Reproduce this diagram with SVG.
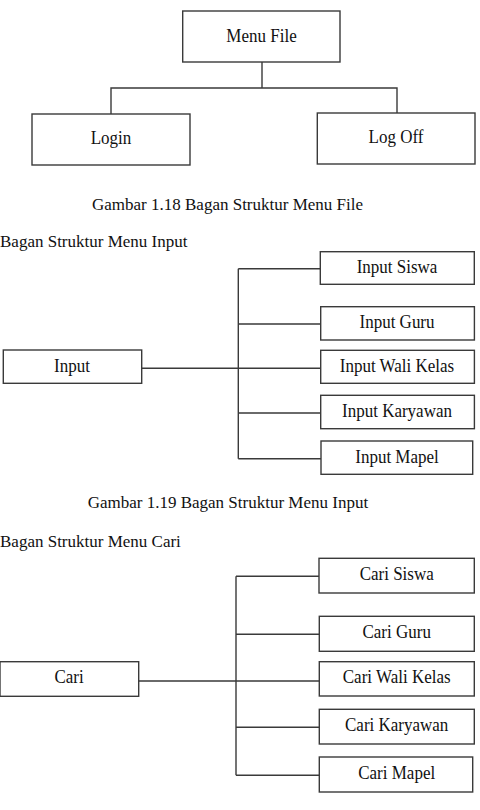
<svg xmlns="http://www.w3.org/2000/svg" width="480" height="810" viewBox="0 0 480 810">
<style>
rect.box{fill:#fff;stroke:#3a3a3a;stroke-width:1.4}
.lbl{font-family:"Liberation Serif","Times New Roman",serif;font-size:17px;fill:#111;text-anchor:middle}
.cap{font-family:"Liberation Serif","Times New Roman",serif;font-size:17px;fill:#111}
#connectors path{fill:none;stroke:#3a3a3a;stroke-width:1.4}
</style>
<rect width="480" height="810" fill="#fff"/>
<g id="connectors">
<path d="M262 62V88M111 114V88H397V113"/>
<path d="M141.7 368.3H322M238.3 268.7V458.7M238.3 268.7H320M238.3 324H320M238.3 413H320M238.3 458.7H321"/>
<path d="M138.7 681H320.7M236 576.3V775.3M236 576.3H319M236 634.3H319M236 727.3H319M236 775.3H319"/>
</g>
<g id="menu-file"><rect class="box" x="182.7" y="11" width="157.3" height="51"/><text class="lbl" transform="translate(261.5 41.5) scale(1 1.08)">Menu File</text></g>
<g id="login"><rect class="box" x="32" y="114" width="158" height="51"/><text class="lbl" transform="translate(111 143.5) scale(1 1.08)">Login</text></g>
<g id="log-off"><rect class="box" x="317.3" y="113" width="157.7" height="51"/><text class="lbl" transform="translate(396 142.5) scale(1 1.08)">Log Off</text></g>
<text class="cap" x="92" y="210">Gambar 1.18 Bagan Struktur Menu File</text>
<text class="cap" x="0" y="247">Bagan Struktur Menu Input</text>
<g id="input"><rect class="box" x="3.3" y="350" width="138.4" height="33.3"/><text class="lbl" transform="translate(72 371.7) scale(1 1.08)">Input</text></g>
<g id="input-siswa"><rect class="box" x="320.3" y="251.7" width="154" height="32.6"/><text class="lbl" transform="translate(397 272.7) scale(1 1.08)">Input Siswa</text></g>
<g id="input-guru"><rect class="box" x="320.7" y="306.7" width="153.7" height="33.3"/><text class="lbl" transform="translate(397 328) scale(1 1.08)">Input Guru</text></g>
<g id="input-wali-kelas"><rect class="box" x="320.7" y="350.3" width="153.7" height="33"/><text class="lbl" transform="translate(397 371.7) scale(1 1.08)">Input Wali Kelas</text></g>
<g id="input-karyawan"><rect class="box" x="320.7" y="395.3" width="153.7" height="33.4"/><text class="lbl" transform="translate(397 416.7) scale(1 1.08)">Input Karyawan</text></g>
<g id="input-mapel"><rect class="box" x="321" y="441" width="151.7" height="33.3"/><text class="lbl" transform="translate(397 462.7) scale(1 1.08)">Input Mapel</text></g>
<text class="cap" x="87.7" y="508.3">Gambar 1.19 Bagan Struktur Menu Input</text>
<text class="cap" x="0" y="546.7">Bagan Struktur Menu Cari</text>
<g id="cari"><rect class="box" x="0" y="661.7" width="138.7" height="34.6"/><text class="lbl" transform="translate(69 683.3) scale(1 1.08)">Cari</text></g>
<g id="cari-siswa"><rect class="box" x="319" y="558.3" width="155.3" height="34.7"/><text class="lbl" transform="translate(396.7 580) scale(1 1.08)">Cari Siswa</text></g>
<g id="cari-guru"><rect class="box" x="319.3" y="616.3" width="155" height="35"/><text class="lbl" transform="translate(396.7 638.3) scale(1 1.08)">Cari Guru</text></g>
<g id="cari-wali-kelas"><rect class="box" x="319.3" y="661.7" width="155" height="34.3"/><text class="lbl" transform="translate(396.7 683.3) scale(1 1.08)">Cari Wali Kelas</text></g>
<g id="cari-karyawan"><rect class="box" x="319.3" y="709.3" width="155" height="34.7"/><text class="lbl" transform="translate(396.7 731) scale(1 1.08)">Cari Karyawan</text></g>
<g id="cari-mapel"><rect class="box" x="319.3" y="757" width="153.4" height="35"/><text class="lbl" transform="translate(396.7 779) scale(1 1.08)">Cari Mapel</text></g>
</svg>
